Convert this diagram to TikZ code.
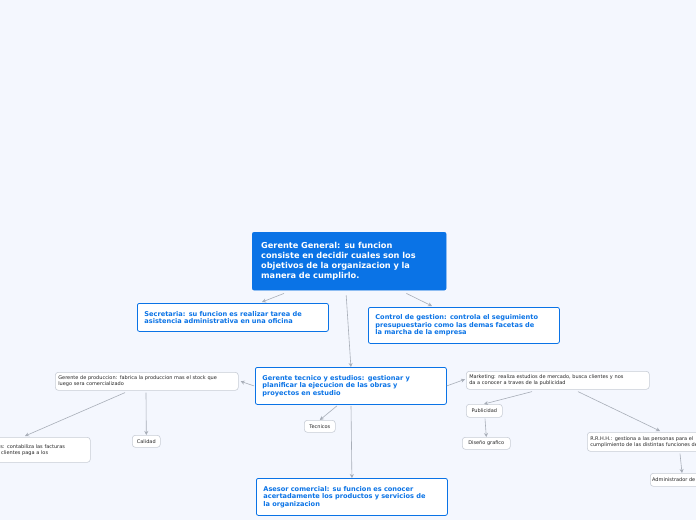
\documentclass[tikz,border=0pt]{standalone}
\usepackage{fontspec}
\setmainfont{DejaVu Sans}
\usetikzlibrary{arrows.meta}
\definecolor{bg}{HTML}{F4F7FE}
\definecolor{mainblue}{HTML}{0A73E6}
\definecolor{lineg}{HTML}{A8AEB8}
\definecolor{boxg}{HTML}{C8CDD6}
\begin{document}
\begin{tikzpicture}[x=1pt,y=-1pt,
 mainbox/.style={fill=mainblue,draw=mainblue,rounded corners=2pt,text=white,font=\bfseries\fontsize{8.2}{10}\selectfont,align=left,inner sep=0pt,anchor=north west},
 bluebox/.style={fill=white,draw=mainblue,line width=0.8pt,rounded corners=2pt,text=mainblue,font=\bfseries\fontsize{6.6}{7.6}\selectfont,align=left,inner sep=0pt,anchor=north west},
 smallbox/.style={fill=white,draw=boxg,line width=0.6pt,rounded corners=3pt,text=black!85,font=\fontsize{5}{6.2}\selectfont,align=left,inner sep=0pt,anchor=north west},
 conn/.style={draw=lineg,line width=0.6pt,-{Stealth[length=4pt,width=4pt]}}]
\fill[bg] (0,0) rectangle (696,520);
\useasboundingbox (0,0) rectangle (696,520);
\node[mainbox,minimum width=194pt,minimum height=58pt,text width=176pt] (m) at (252,232) {Gerente General: su funcion\\consiste en decidir cuales son los\\objetivos de la organizacion y la\\manera de cumplirlo.};
\node[bluebox,minimum width=191pt,minimum height=28pt,text width=177pt] (s) at (137,303) {Secretaria: su funcion es realizar tarea de\\asistencia administrativa en una oficina};
\node[bluebox,minimum width=191pt,minimum height=36pt,text width=177pt] (c) at (368,307) {Control de gestion: controla el seguimiento\\presupuestario como las demas facetas de\\la marcha de la empresa};
\node[bluebox,minimum width=191pt,minimum height=37pt,text width=177pt] (t) at (255,367) {Gerente tecnico y estudios: gestionar y\\planificar la ejecucion de las obras y\\proyectos en estudio};
\node[bluebox,minimum width=191pt,minimum height=37pt,text width=177pt] (a) at (256,478) {Asesor comercial: su funcion es conocer\\acertadamente los productos y servicios de\\la organizacion};
\node[smallbox,minimum width=183pt,minimum height=18pt,text width=177pt] (p) at (55,372) {Gerente de produccion: fabrica la produccion mas el stock que\\luego sera comercializado};
\node[smallbox,minimum width=112pt,minimum height=25pt,text width=106pt] (f) at (-22,437) {Finanzas: contabiliza las facturas\\que los clientes paga a los};
\node[smallbox,minimum width=28pt,minimum height=12pt,align=center] (q) at (132,435) {Calidad};
\node[smallbox,minimum width=31pt,minimum height=12pt,align=center] (tc) at (304,420) {Tecnicos};
\node[smallbox,minimum width=183pt,minimum height=18pt,text width=177pt] (mk) at (466,371) {Marketing: realiza estudios de mercado, busca clientes y nos\\da a conocer a traves de la publicidad};
\node[smallbox,minimum width=36pt,minimum height=13pt,align=center] (pu) at (466,404) {Publicidad};
\node[smallbox,minimum width=48pt,minimum height=12pt,align=center] (d) at (462,437) {Diseño grafico};
\node[smallbox,minimum width=160pt,minimum height=19pt,text width=154pt] (r) at (587,432) {R.R.H.H.: gestiona a las personas para el\\cumplimiento de las distintas funciones de la empresa};
\node[smallbox,minimum width=70pt,minimum height=13pt,align=center] (ad) at (650,473) {Administrador de personal};
\draw[conn] ([xshift=32pt,yshift=-3pt]m.south west) -- ([xshift=125pt,yshift=1pt]s.north west);
\draw[conn] ([xshift=-40pt,yshift=-3pt]m.south east) -- ([xshift=64pt,yshift=1pt]c.north west);
\draw[conn] ([xshift=-3pt,yshift=-5pt]m.south) -- (t.north);
\draw[conn] ([xshift=-1pt]t.west) -- ([xshift=2pt]p.east);
\draw[conn] (t.east) -- ([xshift=-1pt,yshift=1pt]mk.west);
\draw[conn] ([xshift=82pt,yshift=-1pt]t.south west) -- (tc.north);
\draw[conn] ([xshift=96pt,yshift=-1pt]t.south west) -- (a.north);
\draw[conn] ([xshift=70pt,yshift=-2pt]p.south west) -- ([xshift=47pt,yshift=1pt]f.north west);
\draw[conn] ([xshift=91pt,yshift=-2pt]p.south west) -- (q.north);
\draw[conn] ([xshift=66pt,yshift=-2pt]mk.south west) -- ([xshift=18pt]pu.north west);
\draw[conn] ([xshift=112pt,yshift=-2pt]mk.south west) -- ([xshift=73pt,yshift=1pt]r.north west);
\draw[conn] ([xshift=19pt,yshift=-1pt]pu.south west) -- (d.north);
\draw[conn] ([xshift=93pt,yshift=-2pt]r.south west) -- ([xshift=32pt]ad.north west);
\end{tikzpicture}
\end{document}
